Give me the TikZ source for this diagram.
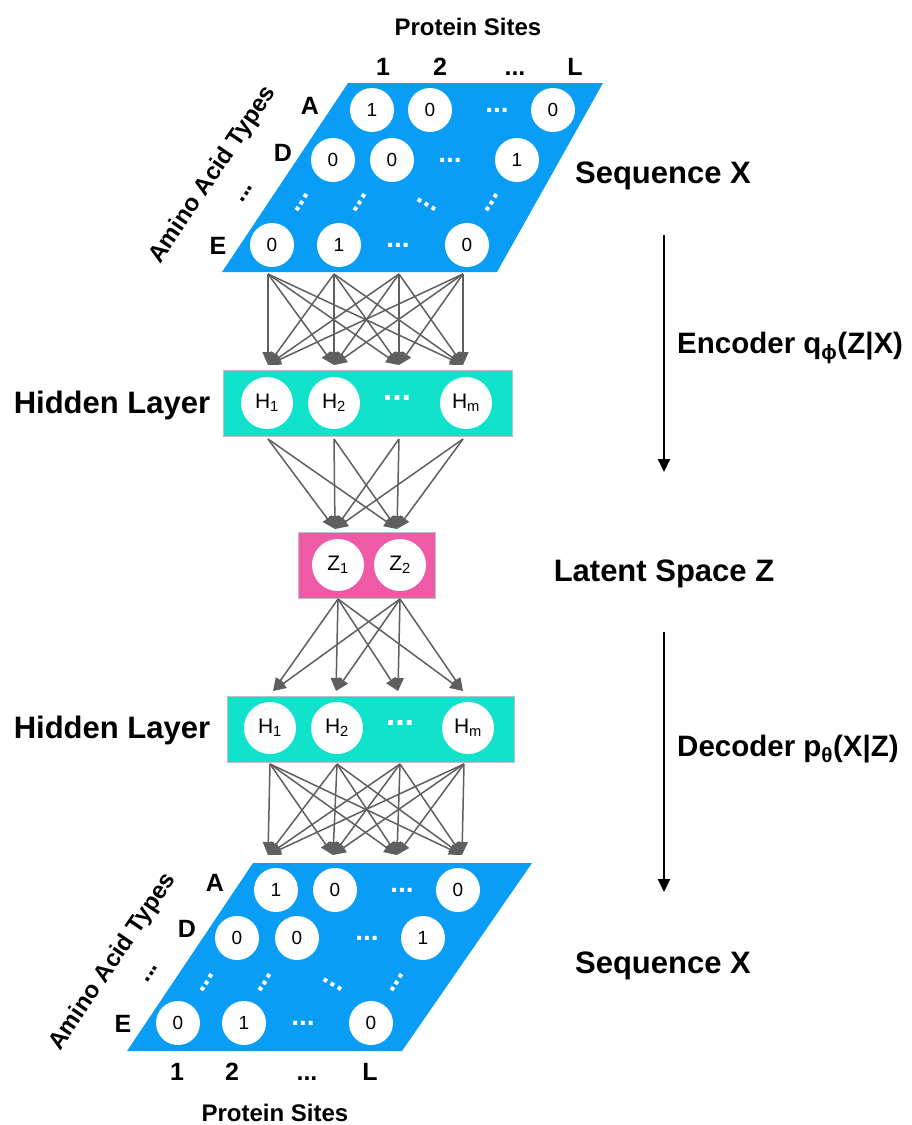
\documentclass[tikz,border=0pt]{standalone}
\usepackage{fontspec}
\setmainfont{Liberation Sans}
\usepackage{xcolor}
\usepackage{tikz}
\usetikzlibrary{arrows.meta}
\definecolor{bluex}{HTML}{0A9DF6}
\definecolor{tealx}{HTML}{10E2CB}
\definecolor{pinkx}{HTML}{EE5AA6}
\definecolor{grayx}{HTML}{5F5F5F}
\tikzset{
  cel/.style={circle,fill=white,minimum size=44pt,inner sep=0pt,font=\fontsize{19}{19}\selectfont},
  neu/.style={circle,fill=white,minimum size=52pt,inner sep=0pt,font=\fontsize{21}{21}\selectfont},
  hd/.style={text=white,inner sep=0pt,font=\fontsize{28}{28}\selectfont\bfseries},
  lab/.style={anchor=base,inner sep=0pt,font=\fontsize{25}{25}\selectfont\bfseries},
  big/.style={anchor=base,inner sep=0pt,font=\fontsize{31}{31}\selectfont\bfseries},
  axl/.style={inner sep=0pt,font=\fontsize{24}{24}\selectfont\bfseries},
  lay/.style={draw=gray!50,line width=0.6pt,inner sep=0pt},
  ed/.style={-{Triangle[length=13pt,width=11pt]},line width=1.5pt,grayx},
  ar/.style={-{Triangle[length=13pt,width=12pt]},line width=2pt,black}
}

\begin{document}
\begin{tikzpicture}[x=1pt,y=-1pt]
\useasboundingbox (0,0) rectangle (912,1125);

% input sequence
\fill[bluex] (348,83) -- (603,83) -- (497,272) -- (222,272) -- cycle;
\node[cel] (ta1) at (372,110) {1};
\node[cel] (ta2) at (430,110) {0};
\node[hd] (ta3) at (497,110) {...};
\node[cel] (ta4) at (553,110) {0};
\node[cel] (td1) at (333,160) {0};
\node[cel] (td2) at (392,160) {0};
\node[hd] (td3) at (450,160) {...};
\node[cel] (td4) at (517,160) {1};
\node[hd,rotate=56] (tv1) at (302,203) {...};
\node[hd,rotate=56] (tv2) at (360,203) {...};
\node[hd,rotate=-31] (tv3) at (427,205) {...};
\node[hd,rotate=56] (tv4) at (492,203) {...};
\node[cel] (te1) at (272,245) {0};
\node[cel] (te2) at (339,245) {1};
\node[hd] (te3) at (398,245) {...};
\node[cel] (te4) at (467,245) {0};
\node[axl] (tps) at (468,27) {Protein Sites};
\node[lab] (tn1) at (383,75.5) {1};
\node[lab] (tn2) at (440,75.5) {2};
\node[lab] (tn3) at (515,75.5) {...};
\node[lab] (tn4) at (575,75.5) {L};
\node[lab] (tla) at (310,114) {A};
\node[lab] (tld) at (283,161) {D};
\node[lab,rotate=56] (tlv) at (248,195) {...};
\node[lab] (tle) at (218,254) {E};
\node[axl,rotate=56] (taa) at (213,175) {Amino Acid Types};
\node[big] (tsx) at (663,183) {Sequence X};

% hidden layer 1
\node[lay,fill=tealx,minimum width=289pt,minimum height=66pt] (hid1) at (367.5,403) {};
\node[neu] (ha1) at (267,403) {H\textsubscript{1}};
\node[neu] (ha2) at (334,403) {H\textsubscript{2}};
\node[hd,font=\fontsize{34}{34}\selectfont\bfseries] (ha3) at (397,398) {...};
\node[neu] (ha4) at (466,403) {H\textsubscript{m}};
\node[big] (hl1) at (112,413) {Hidden Layer};

% latent space
\node[lay,fill=pinkx,minimum width=137pt,minimum height=66pt] (lat) at (366.5,565) {};
\node[neu] (z1) at (338,565) {Z\textsubscript{1}};
\node[neu] (z2) at (400,565) {Z\textsubscript{2}};
\node[big] (lsz) at (664,581) {Latent Space Z};

% hidden layer 2
\node[lay,fill=tealx,minimum width=287pt,minimum height=66pt] (hid2) at (370.5,729) {};
\node[neu] (hb1) at (270,728) {H\textsubscript{1}};
\node[neu] (hb2) at (337,728) {H\textsubscript{2}};
\node[hd,font=\fontsize{34}{34}\selectfont\bfseries] (hb3) at (400,723) {...};
\node[neu] (hb4) at (468,728) {H\textsubscript{m}};
\node[big] (hl2) at (112,738) {Hidden Layer};

% output sequence
\fill[bluex] (253,863) -- (532,863) -- (402,1051) -- (127,1051) -- cycle;
\node[cel] (ba1) at (276,890) {1};
\node[cel] (ba2) at (335,890) {0};
\node[hd] (ba3) at (402,890) {...};
\node[cel] (ba4) at (458,890) {0};
\node[cel] (bd1) at (237,938) {0};
\node[cel] (bd2) at (297,938) {0};
\node[hd] (bd3) at (367,938) {...};
\node[cel] (bd4) at (423,938) {1};
\node[hd,rotate=56] (bv1) at (207,983) {...};
\node[hd,rotate=56] (bv2) at (265,983) {...};
\node[hd,rotate=-31] (bv3) at (333,985) {...};
\node[hd,rotate=56] (bv4) at (397,983) {...};
\node[cel] (be1) at (178,1023) {0};
\node[cel] (be2) at (244,1023) {1};
\node[hd] (be3) at (303,1023) {...};
\node[cel] (be4) at (371,1023) {0};
\node[lab] (bn1) at (177,1080.5) {1};
\node[lab] (bn2) at (232,1080.5) {2};
\node[lab] (bn3) at (307,1080.5) {...};
\node[lab] (bn4) at (370,1080.5) {L};
\node[axl] (bps) at (275,1113) {Protein Sites};
\node[lab] (bla) at (215,891) {A};
\node[lab] (bld) at (187,937) {D};
\node[lab,rotate=56] (blv) at (153,975) {...};
\node[lab] (ble) at (123,1032) {E};
\node[axl,rotate=56] (baa) at (113,962) {Amino Acid Types};
\node[big] (bsx) at (663,973) {Sequence X};

% connections
\foreach \i/\x in {1/268,2/334,3/399,4/463} {
  \coordinate (xo\i) at (\x,274);
  \coordinate (hi\i) at (\x,365);
}
\foreach \i/\x in {1/268,2/334,3/399,4/463} \coordinate (ho\i) at (\x,439);
\coordinate (zi1) at (335,529); \coordinate (zi2) at (397,529);
\coordinate (zo1) at (338,599); \coordinate (zo2) at (400,599);
\foreach \i/\x in {1/273,2/336,3/398,4/463} \coordinate (gi\i) at (\x,691);
\foreach \i/\x in {1/270,2/337,3/400,4/464} \coordinate (go\i) at (\x,764);
\foreach \i/\x in {1/268,2/333,3/397,4/462} \coordinate (yi\i) at (\x,855);
\foreach \i in {1,...,4} \foreach \j in {1,...,4} \draw[ed] (xo\i) -- (hi\j);
\foreach \i in {1,...,4} \foreach \j in {1,2} \draw[ed] (ho\i) -- (zi\j);
\foreach \i in {1,2} \foreach \j in {1,...,4} \draw[ed] (zo\i) -- (gi\j);
\foreach \i in {1,...,4} \foreach \j in {1,...,4} \draw[ed] (go\i) -- (yi\j);

% encoder / decoder
\coordinate (enc1) at (664,235); \coordinate (enc2) at (664,472);
\coordinate (dec1) at (664,632); \coordinate (dec2) at (664,892);
\draw[ar] (enc1) -- (enc2);
\draw[ar] (dec1) -- (dec2);
\node[big,anchor=base west,font=\fontsize{29.5}{30}\selectfont\bfseries] (enc) at (677,353) {Encoder q\textsubscript{ϕ}(Z|X)};
\node[big,anchor=base west,font=\fontsize{29.5}{30}\selectfont\bfseries] (dec) at (677,756) {Decoder p\textsubscript{θ}(X|Z)};
\end{tikzpicture}
\end{document}
